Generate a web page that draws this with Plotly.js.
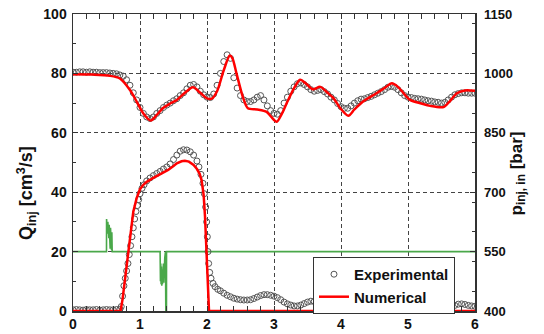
<!DOCTYPE html>
<html>
<head>
<meta charset="utf-8">
<script src="https://cdn.plot.ly/plotly-3.0.1.min.js"></script>
<style>
html,body{margin:0;padding:0;background:#fff;}
#chart{width:544px;height:334px;}
</style>
</head>
<body>
<div id="chart"></div>
<script>
// ---- Experimental injection pressure p_inj,in [bar] (circles, right axis)
var expPressTime = [0,0.05,0.1,0.15,0.2,0.25,0.3,0.35,0.4,0.45,0.5,0.55,0.6,0.65,0.7,0.75,0.8,0.85,0.9,0.95,
  1,1.05,1.1,1.15,1.2,1.25,1.3,1.35,1.4,1.45,1.5,1.55,1.6,1.65,1.7,1.75,1.8,1.85,1.9,1.95,
  2,2.05,2.1,2.15,2.2,2.25,2.3,2.35,2.4,2.45,2.5,2.55,2.6,2.65,2.7,2.75,2.8,2.85,2.9,2.95,
  3,3.05,3.1,3.15,3.2,3.25,3.3,3.35,3.4,3.45,3.5,3.55,3.6,3.65,3.7,3.75,3.8,3.85,3.9,3.95,
  4,4.05,4.1,4.15,4.2,4.25,4.3,4.35,4.4,4.45,4.5,4.55,4.6,4.65,4.7,4.75,4.8,4.85,4.9,4.95,
  5,5.05,5.1,5.15,5.2,5.25,5.3,5.35,5.4,5.45,5.5,5.55,5.6,5.65,5.7,5.75,5.8,5.85,5.9,5.95,6];
var expPress = [1003,1003,1004,1004,1003,1004,1003,1003,1002,1002,1002,1001,1000,999,996,993,984,970,951,933,
  914,899,890,886,890,899,906,914,920,925,931,936,944,951,961,970,972,966,955,946,
  940,939,948,970,1000,1030,1047,1038,989,963,944,933,929,929,933,940,944,933,918,906,
  899,897,906,925,940,955,966,974,976,972,966,959,955,957,959,954,948,940,933,924,
  916,912,912,918,925,931,935,936,939,942,946,950,954,959,965,967,965,959,951,944,
  940,939,937,936,935,933,931,930,928,927,925,927,933,940,946,949,951,951,950,950,950];

// ---- Numerical injection pressure [bar] (red line, right axis)
var numPressTime = [0,0.3,0.55,0.7,0.85,0.95,1.05,1.16,1.25,1.34,1.45,1.55,1.65,1.79,1.9,2.0,2.07,2.15,2.25,2.34,2.38,2.44,2.54,2.61,2.75,2.89,2.96,3.04,3.12,3.19,3.3,3.39,3.48,3.58,3.69,3.8,3.89,3.99,4.11,4.2,4.33,4.53,4.65,4.76,4.85,5.03,5.2,5.33,5.53,5.62,5.73,5.85,6.0];
var numPress = [998,997,994,987,958,929,899,881,895,912,924,933,948,965,951,937,936,955,1008,1045,1038,1000,938,912,909,903,890,878,899,925,963,984,974,960,966,951,937,912,893,909,929,950,963,975,966,933,924,918,915,929,950,957,956];

// ---- Experimental injection rate Q_inj [cm3/s] (circles, left axis)
var expFlowTime = [0,0.05,0.1,0.15,0.2,0.25,0.3,0.35,0.4,0.45,0.5,0.55,0.6,0.65,0.7,
  0.72,0.74,0.76,0.78,0.8,0.82,0.84,0.86,0.88,0.9,0.92,0.94,0.96,0.98,1.0,
  1.03,1.06,1.1,1.15,1.2,1.25,1.3,1.35,1.4,1.45,1.5,1.55,1.6,1.65,1.7,1.75,1.8,1.85,
  1.88,1.91,1.94,1.96,1.98,1.995,2.005,2.015,2.025,2.04,2.06,2.09,2.12,2.16,2.2,
  2.25,2.3,2.35,2.4,2.45,2.5,2.55,2.6,2.65,2.7,2.75,2.8,2.85,2.9,2.95,
  3,3.05,3.1,3.15,3.2,3.25,3.3,3.35,3.4,3.45,3.5,3.55,3.6,3.65,3.7,3.75,3.8,3.85,3.9,3.95,
  4,4.05,4.1,4.15,4.2,4.25,4.3,4.35,4.4,4.45,4.5,4.55,4.6,4.65,4.7,4.75,4.8,4.85,4.9,4.95,
  5,5.05,5.1,5.15,5.2,5.25,5.3,5.35,5.4,5.45,5.5,5.55,5.6,5.65,5.7,5.75,5.8,5.85,5.9,5.95,6];
var expFlow = [0.4,0.5,0.4,0.3,0.5,0.4,0.4,0.5,0.3,0.4,0.5,0.4,0.4,0.5,0.6,
  1.5,5,8.5,11,13.5,16,19,22,25,28,31,33.5,35.5,37.5,39.5,
  41.3,42.5,43.8,44.8,45.6,46.3,47,47.8,48.5,49.5,51,52.5,53.8,54.3,54.2,53.6,52.5,50.5,
  48.5,46,43,39.5,35,30,25,20,16,13,11,9.3,8.2,7.3,6.8,
  6,5.3,4.8,4.3,4,3.8,3.7,3.7,3.8,4.2,4.7,5.2,5.5,5.5,5.3,
  5,4.5,3.8,3,2.4,2,1.7,1.7,2,2.5,3,3.3,3.2,2.8,2.2,1.6,1,0.6,0.4,0.3,
  0.4,0.8,1.3,1.8,2.2,2.4,2.3,2,1.5,1.1,0.8,0.7,0.8,1.1,1.5,1.9,2,1.8,1.3,0.9,
  0.6,0.5,0.6,0.9,1.3,1.7,1.9,1.9,1.6,1.2,0.9,0.8,1,1.4,1.9,2.3,2.4,2.2,1.9,1.7,1.6];

// ---- Numerical injection rate [cm3/s] (red line, left axis)
var numFlowTime = [0,0.71,0.74,0.77,0.8,0.85,0.9,0.95,1.0,1.05,1.1,1.2,1.3,1.42,1.5,1.55,1.62,1.67,1.73,1.8,1.85,1.89,1.92,1.95,1.97,1.985,2.0,2.015,2.03,6];
var numFlow = [0,0,4,9.5,15,26,33.4,38,41,42.5,43.5,44.8,46,47.5,48.8,49.7,50.4,50.6,50.3,49.2,47.8,46.2,44,39,32,24,15,7,0,0];

// ---- Injector command signal (green, left axis scale)
var signalTime = [0,0.5,0.501,0.505,0.51,0.515,0.52,0.525,0.53,0.535,0.54,0.545,0.55,0.555,0.56,0.565,0.57,0.575,0.58,0.585,
  1.3,1.301,1.305,1.31,1.315,1.32,1.325,1.33,1.335,1.34,1.345,1.35,1.355,1.36,1.365,1.37,1.375,1.38,1.385,1.395,1.396,6];
var signal = [20,20,31,27,30.5,26,30,25.5,29.5,24.5,29,22,28.5,21,28,24,27.5,20.5,26.5,20,
  20,15,10,16,9,15,8.5,14,9,13,10,16,9.5,17,11,18,19,20,0,0,20,20];

var fontFam = 'Arial, "Liberation Sans", sans-serif';
var boldFont = {family:fontFam, size:14, weight:'bold', color:'#111'};

var traces = [
  {x:signalTime, y:signal, type:'scatter', mode:'lines', line:{color:'#4aa84a', width:1.6}, showlegend:false, hoverinfo:'skip'},
  {x:expFlowTime, y:expFlow, type:'scatter', mode:'markers', name:'Experimental', legendgroup:'exp',
   marker:{symbol:'circle-open', size:6, color:'#555', line:{width:1, color:'#555'}}},
  {x:expPressTime, y:expPress, type:'scatter', mode:'markers', yaxis:'y2', showlegend:false, legendgroup:'exp',
   marker:{symbol:'circle-open', size:6, color:'#555', line:{width:1, color:'#555'}}},
  {x:numFlowTime, y:numFlow, type:'scatter', mode:'lines', name:'Numerical', legendgroup:'num',
   line:{color:'#ff0000', width:2.5}},
  {x:numPressTime, y:numPress, type:'scatter', mode:'lines', yaxis:'y2', showlegend:false, legendgroup:'num',
   line:{color:'#ff0000', width:2.5, shape:'spline', smoothing:0.8}}
];

var axisCommon = {
  showline:true, linecolor:'#333', linewidth:1.5, ticks:'inside', ticklen:5, tickwidth:1, tickcolor:'#333',
  zeroline:false, tickfont:boldFont
};

var layout = {
  width:544, height:334,
  margin:{l:73, r:69, t:14, b:23},
  paper_bgcolor:'#fff', plot_bgcolor:'#fff',
  showlegend:true,
  xaxis:Object.assign({}, axisCommon, {
    range:[0,6], dtick:1, tick0:0, mirror:'allticks',
    showgrid:true, gridcolor:'#444', gridwidth:1, griddash:'4px,3px',
    minor:{dtick:0.2, ticks:'inside', ticklen:3, tickcolor:'#333', showgrid:false}
  }),
  yaxis:Object.assign({}, axisCommon, {
    range:[0,100], dtick:20, tick0:0, mirror:false,
    showgrid:true, gridcolor:'#444', gridwidth:1, griddash:'4px,3px',
    minor:{dtick:10, ticks:'inside', ticklen:3, tickcolor:'#333', showgrid:false},
    ticklabelstandoff:2
  }),
  yaxis2:Object.assign({}, axisCommon, {
    range:[400,1150], dtick:150, tick0:400, overlaying:'y', side:'right', showgrid:false,
    minor:{dtick:75, ticks:'inside', ticklen:3, tickcolor:'#333', showgrid:false},
    tickfont:{family:fontFam, size:13, weight:'bold', color:'#111'},
    ticklabelstandoff:5
  }),
  legend:{x:0.597, y:0.182, xanchor:'left', yanchor:'top', bgcolor:'#fff', bordercolor:'#333', borderwidth:1,
    font:{family:fontFam, size:15, weight:'bold', color:'#111'}, tracegroupgap:0},
  annotations:[
    {xref:'paper', yref:'paper', x:-0.117, y:0.397, xanchor:'center', yanchor:'middle', textangle:-90, showarrow:false,
     text:'<b>Q<sub>inj</sub> [cm<sup>3</sup>/s]</b>', font:{family:fontFam, size:18, color:'#111'}},
    {xref:'paper', yref:'paper', x:1.107, y:0.463, xanchor:'center', yanchor:'middle', textangle:-90, showarrow:false,
     text:'<b>p<sub>inj, in</sub> [bar]</b>', font:{family:fontFam, size:17, color:'#111'}}
  ]
};

Plotly.newPlot('chart', traces, layout, {displayModeBar:false, staticPlot:true});
</script>
</body>
</html>
